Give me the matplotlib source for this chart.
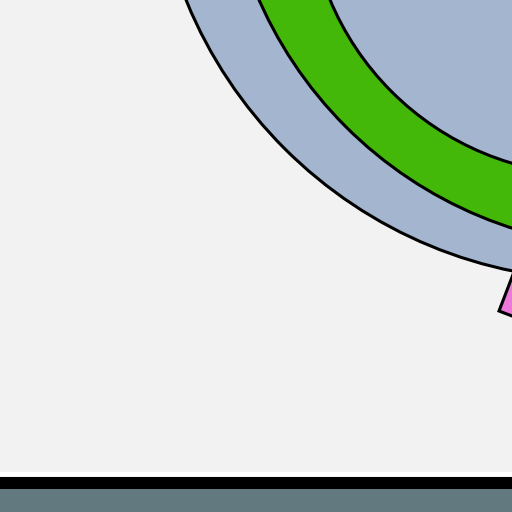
import matplotlib
matplotlib.use("Agg")
import matplotlib.pyplot as plt
from matplotlib.patches import Circle, Rectangle

# Nested circles (circle packing crop), in pixel-like data units
circle_names = ["outer", "middle", "inner"]
circle_cx = [602, 639, 593]
circle_cy = [-169, -167, -110]
circle_r = [449, 415, 285]
circle_colors = ["#a4b6cf", "#44b808", "#a4b6cf"]

# Pink rotated block
block_x, block_y = 499, 311
block_w, block_h = 60, -60
block_angle = 21
block_color = "#ec79d9"

fig = plt.figure(figsize=(5.12, 5.12), dpi=100)
fig.patch.set_facecolor("#f2f2f2")
ax = fig.add_axes([0, 0, 1, 1])
ax.set_xlim(0, 512)
ax.set_ylim(512, 0)
ax.set_facecolor("#f2f2f2")
ax.axis("off")

ax.add_patch(Rectangle((block_x, block_y), block_w, block_h, angle=block_angle,
                       facecolor=block_color, edgecolor="black", linewidth=2.2, zorder=1))

for i, (cx, cy, r, c) in enumerate(zip(circle_cx, circle_cy, circle_r, circle_colors)):
    ax.add_patch(Circle((cx, cy), r, facecolor=c, edgecolor="black",
                        linewidth=2.2, zorder=2 + i))

# bottom frame bands
ax.axhspan(472, 476, color="white", zorder=10, linewidth=0)
ax.axhspan(476.5, 488.5, color="black", zorder=10, linewidth=0)
ax.axhspan(488.5, 512, color="#627a7f", zorder=10, linewidth=0)

fig.savefig("out.png", dpi=100, facecolor=fig.get_facecolor())
